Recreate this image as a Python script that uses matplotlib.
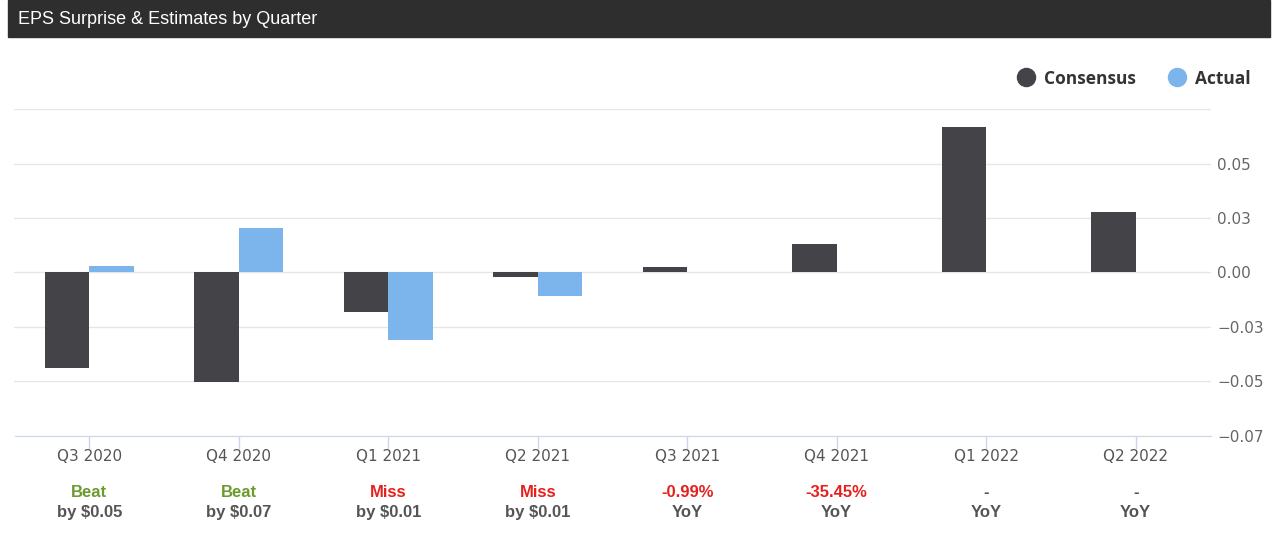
import matplotlib.pyplot as plt
import numpy as np
from matplotlib.patches import Rectangle
from matplotlib.lines import Line2D
import matplotlib.transforms as mtransforms

quarters = ['Q3 2020', 'Q4 2020', 'Q1 2021', 'Q2 2021',
            'Q3 2021', 'Q4 2021', 'Q1 2022', 'Q2 2022']
consensus = [-0.0438, -0.0505, -0.0181, -0.0023, 0.0025, 0.0129, 0.0670, 0.0278]
actual = [0.0028, 0.0202, -0.0310, -0.0107, np.nan, np.nan, np.nan, np.nan]
surprise = ['Beat', 'Beat', 'Miss', 'Miss', '-0.99%', '-35.45%', '-', '-']
surprise_sub = ['by $0.05', 'by $0.07', 'by $0.01', 'by $0.01', 'YoY', 'YoY', 'YoY', 'YoY']
yticks = [-0.075, -0.05, -0.025, 0.0, 0.025, 0.05, 0.075]
series = ['Consensus', 'Actual']

c_cons = '#434348'
c_act = '#7cb5ec'
green = '#6b9a2f'
red = '#e5211d'

W, H = 1279, 540
fig = plt.figure(figsize=(W/100, H/100), dpi=100)

# title bar
fig.patches.append(Rectangle((8/W, 1-37/H), 1262/W, 37/H,
                             transform=fig.transFigure, color='#2e2e2e', zorder=0))
fig.text(18/W, 1-19/H, 'EPS Surprise & Estimates by Quarter', color='white',
         fontsize=13, family='Liberation Sans', va='center', ha='left')

ax = fig.add_axes([14.5/W, 1-435.5/H, 1196/W, 326.2/H])
x = np.arange(len(quarters))
w = 0.298
ax.bar(x - w/2, consensus, w, color=c_cons, zorder=3)
ax.bar(x + w/2, actual, w, color=c_act, zorder=3)

ax.set_xlim(-0.5, len(quarters) - 0.5)
ax.set_ylim(-0.075, 0.075)
ax.set_yticks(yticks)
ax.set_yticklabels([('%.2f' % v).replace('-', '\u2212') if v < 0.07 else '' for v in yticks])
ax.yaxis.tick_right()
ax.grid(axis='y', color='#e6e6e6', linewidth=1, zorder=0)
ax.tick_params(axis='y', length=0, pad=5, labelsize=11, labelcolor='#666666')
ax.set_xticks(x)
ax.set_xticklabels(quarters)
ax.tick_params(axis='x', length=9, width=1, color='#ccd6eb', pad=1,
               labelsize=11, labelcolor='#555555')
for s in ['top', 'left', 'right']:
    ax.spines[s].set_visible(False)
ax.spines['bottom'].set_color('#ccd6eb')
ax.spines['bottom'].set_zorder(4)

# surprise rows under the axis
trans = mtransforms.blended_transform_factory(ax.transData, ax.transAxes)
for i in range(len(quarters)):
    if surprise[i] == 'Beat':
        col = green
    elif surprise[i] == '-':
        col = '#555555'
    else:
        col = red
    ax.text(i, -0.176, surprise[i], transform=trans, ha='center', va='center',
            color=col, fontsize=12, fontweight='bold', family='Liberation Sans')
    ax.text(i, -0.237, surprise_sub[i], transform=trans, ha='center', va='center',
            color='#555555', fontsize=12, fontweight='bold', family='Liberation Sans')

# legend
leg_x = [1025.5, 1176.5]
for lx, name, c in zip(leg_x, series, [c_cons, c_act]):
    fig.add_artist(Line2D([lx/W], [1-77/H], marker='o', markersize=13,
                          color=c, linestyle='', transform=fig.transFigure))
    fig.text((lx + 18.5)/W, 1-78.5/H, name, ha='left', va='center', color='#333333',
             fontsize=12.5, fontweight='bold', family='Open Sans')

fig.savefig('out.png', dpi=100)
